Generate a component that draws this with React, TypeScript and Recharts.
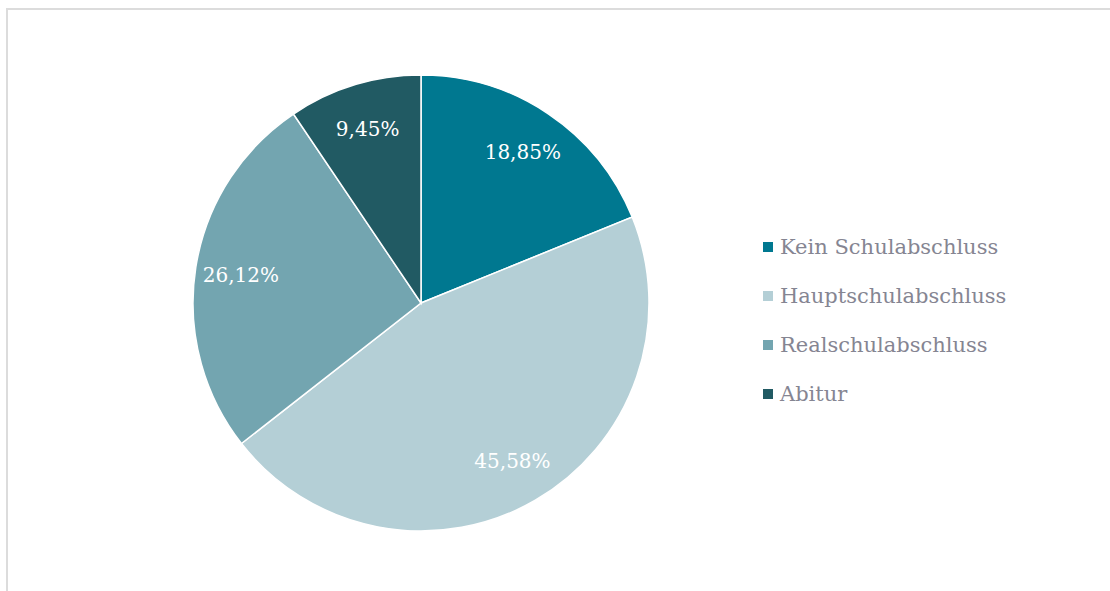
import React from "react";
import { PieChart, Pie, Cell, Legend } from "recharts";

const categories = ["Kein Schulabschluss", "Hauptschulabschluss", "Realschulabschluss", "Abitur"];
const values = [18.85, 45.58, 26.12, 9.45];
const labels = ["18,85%", "45,58%", "26,12%", "9,45%"];
const colors = ["#007890", "#b4cfd6", "#73a5b0", "#215a63"];

const data = categories.map((name, i) => ({ name, value: values[i], label: labels[i] }));

const FONT = "Georgia, 'DejaVu Serif', 'Liberation Serif', serif";
const RAD = Math.PI / 180;

const renderLabel = (props: any) => {
  const { cx, cy, midAngle, outerRadius, index } = props;
  const r = outerRadius * 0.8;
  const x = cx + r * Math.cos(-midAngle * RAD);
  const y = cy + r * Math.sin(-midAngle * RAD);
  return (
    <text x={x} y={y} fill="#ffffff" textAnchor="middle" dominantBaseline="central"
      style={{ fontFamily: FONT, fontSize: 20 }}>
      {labels[index]}
    </text>
  );
};

const renderLegend = () => (
  <div style={{ fontFamily: FONT, fontSize: 21, color: "#858592" }}>
    {categories.map((c, i) => (
      <div key={c} style={{ display: "flex", alignItems: "center", height: 49 }}>
        <span style={{ display: "inline-block", width: 10, height: 10, background: colors[i], marginRight: 7 }} />
        <span>{c}</span>
      </div>
    ))}
  </div>
);

export default function App() {
  return (
    <div style={{ position: "absolute", left: 0, top: 0, width: 1110, height: 591, background: "#fff" }}>
      <div style={{ position: "absolute", left: 6, top: 8, width: 1104, height: 583, borderTop: "2px solid #dcdcdc", borderLeft: "2px solid #dcdcdc" }} />
      <div style={{ position: "absolute", left: 0, top: 0 }}>
        <PieChart width={1110} height={591} margin={{ top: 0, right: 0, bottom: 0, left: 0 }}>
          <Pie
            data={data}
            dataKey="value"
            nameKey="name"
            cx={421}
            cy={303}
            outerRadius={228}
            startAngle={90}
            endAngle={-270}
            stroke="#ffffff"
            strokeWidth={1.5}
            label={renderLabel}
            labelLine={false}
            isAnimationActive={false}
          >
            {data.map((d, i) => (
              <Cell key={d.name} fill={colors[i]} />
            ))}
          </Pie>
          <Legend content={renderLegend} layout="vertical" verticalAlign="top" align="right"
            wrapperStyle={{ left: 763, top: 222, width: 320 }} />
        </PieChart>
      </div>
    </div>
  );
}
